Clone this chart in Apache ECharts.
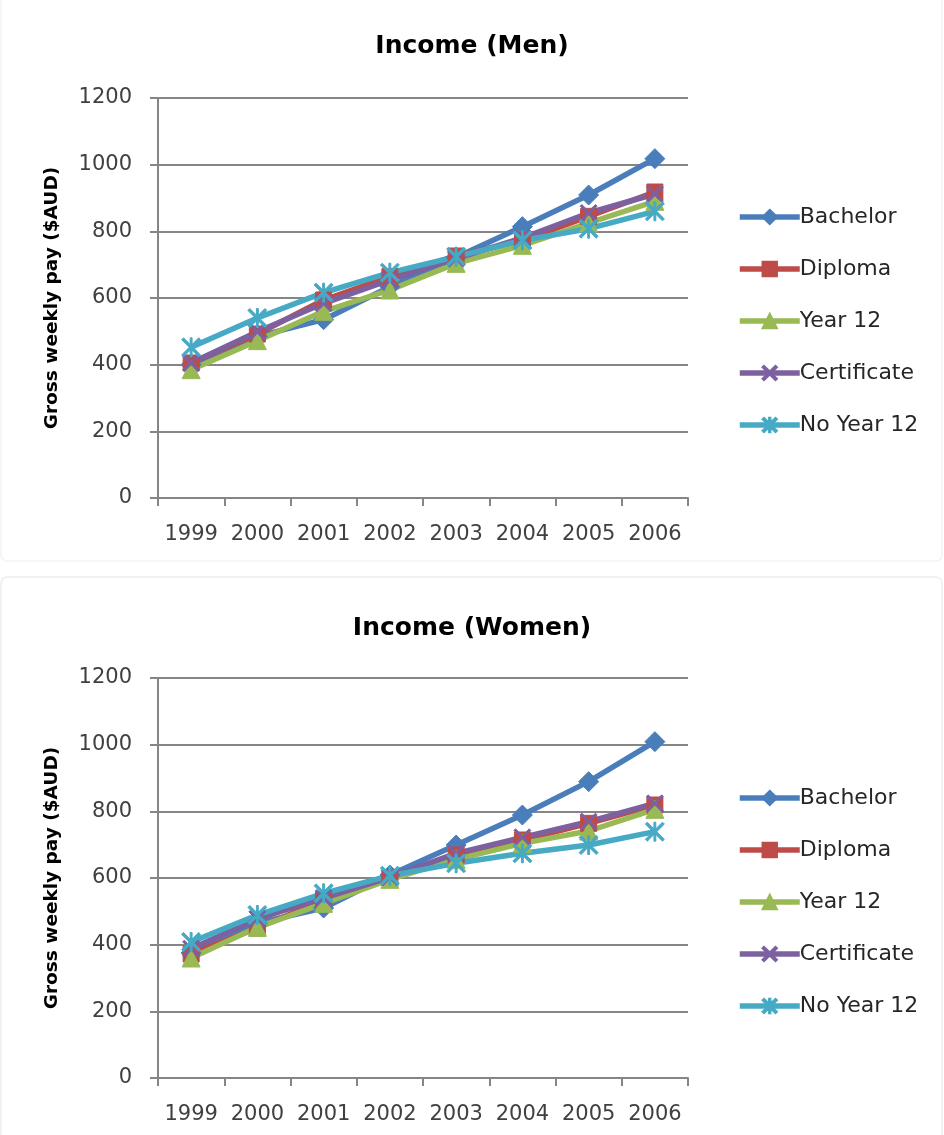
<!DOCTYPE html>
<html>
<head>
<meta charset="utf-8">
<script src="https://cdn.jsdelivr.net/npm/echarts@6/dist/echarts.min.js"></script>
<style>
html,body{margin:0;padding:0;background:#fff;}
#chart{width:944px;height:1135px;}
</style>
</head>
<body>
<div id="chart"></div>
<script>
const years = ['1999','2000','2001','2002','2003','2004','2005','2006'];
const seriesNames = ['Bachelor','Diploma','Year 12','Certificate','No Year 12'];
const yTicks = [0, 200, 400, 600, 800, 1000, 1200];

const menBachelor    = [400, 485, 535, 634, 722, 814, 909, 1018];
const menDiploma     = [405, 492, 594, 664, 726, 772, 845, 918];
const menYear12      = [385, 472, 560, 624, 704, 758, 825, 890];
const menCertificate = [405, 499, 584, 654, 718, 780, 855, 912];
const menNoYear12    = [452, 540, 616, 676, 724, 773, 808, 860];

const womenBachelor    = [375, 465, 510, 609, 699, 789, 889, 1009];
const womenDiploma     = [372, 450, 534, 600, 669, 714, 764, 819];
const womenYear12      = [360, 452, 524, 596, 656, 704, 741, 806];
const womenCertificate = [388, 478, 540, 602, 674, 722, 769, 824];
const womenNoYear12    = [408, 489, 554, 607, 644, 674, 699, 739];

const FONT = 'DejaVu Sans';
const colors = ['#4A7EBB', '#BE4B48', '#98B954', '#7D60A0', '#46AAC5'];
const xPath = 'path://M0,2 L2,0 L10,8 L18,0 L20,2 L12,10 L20,18 L18,20 L10,12 L2,20 L0,18 L8,10 Z';
const starPath = 'path://M0,2 L2,0 L10,8 L18,0 L20,2 L12,10 L20,18 L18,20 L10,12 L2,20 L0,18 L8,10 Z M9,0 L11,0 L11,20 L9,20 Z';
const symbols = ['diamond', 'rect', 'triangle', xPath, starPath];
const symbolSizes = [20, 16, 18, 17, 19];

const chart = echarts.init(document.getElementById('chart'), null, {renderer: 'canvas'});

function makeSeries(dataArr, idx) {
  return dataArr.map((d, i) => ({
    name: seriesNames[i],
    type: 'line',
    xAxisIndex: idx,
    yAxisIndex: idx,
    data: d,
    symbol: symbols[i],
    symbolSize: symbolSizes[i],
    showAllSymbol: true,
    lineStyle: {color: colors[i], width: 5.5},
    itemStyle: {color: colors[i], borderColor: colors[i], borderWidth: 1},
    emphasis: {disabled: true},
    animation: false
  }));
}

function xAxisCfg(gi) {
  return {
    type: 'category', gridIndex: gi, data: years, boundaryGap: true,
    axisLine: {show: true, lineStyle: {color: '#868686', width: 2}},
    axisTick: {show: true, length: 8, inside: false, lineStyle: {color: '#868686', width: 2}},
    axisLabel: {color: '#404040', fontSize: 21, fontFamily: FONT, margin: 26, interval: 0},
    splitLine: {show: false}
  };
}
function yAxisCfg(gi) {
  return {
    type: 'value', gridIndex: gi, min: yTicks[0], max: yTicks[yTicks.length - 1], interval: 200,
    name: 'Gross weekly pay ($AUD)', nameLocation: 'middle', nameRotate: 90, nameGap: 96,
    nameTextStyle: {fontSize: 18.5, fontWeight: 'bold', color: '#000', fontFamily: FONT},
    axisLine: {show: true, lineStyle: {color: '#868686', width: 2}},
    axisTick: {show: true, length: 8, inside: false, lineStyle: {color: '#868686', width: 2}},
    axisLabel: {color: '#404040', fontSize: 21, fontFamily: FONT, margin: 26, formatter: v => String(v)},
    splitLine: {show: true, lineStyle: {color: '#868686', width: 2}}
  };
}
function legendCfg(top) {
  return {
    orient: 'vertical', left: 732, top: top,
    data: seriesNames,
    itemWidth: 60, itemHeight: 18, itemGap: 30,
    lineStyle: {width: 5.5},
    textStyle: {fontSize: 22, fontFamily: FONT, color: '#262626', lineHeight: 22, padding: [0, 0, 0, -5]},
    selectedMode: false
  };
}

const option = {
  backgroundColor: '#fff',
  animation: false,
  graphic: [
    {type: 'rect', shape: {x: 1, y: -10, width: 941, height: 571, r: 6}, style: {fill: 'none', stroke: '#f3f3f3', lineWidth: 1.5}, silent: true, z: -10},
    {type: 'rect', shape: {x: 1, y: 577, width: 941, height: 580, r: 6}, style: {fill: 'none', stroke: '#ededed', lineWidth: 1.5}, silent: true, z: -10}
  ],
  title: [
    {text: 'Income (Men)', left: 'center', top: 29, textStyle: {fontSize: 25, fontWeight: 'bold', color: '#000', fontFamily: FONT}},
    {text: 'Income (Women)', left: 'center', top: 611, textStyle: {fontSize: 25, fontWeight: 'bold', color: '#000', fontFamily: FONT}}
  ],
  legend: [legendCfg(201), legendCfg(782)],
  grid: [
    {left: 158, top: 98, width: 530, height: 400},
    {left: 158, top: 678, width: 530, height: 400}
  ],
  xAxis: [xAxisCfg(0), xAxisCfg(1)],
  yAxis: [yAxisCfg(0), yAxisCfg(1)],
  series: [].concat(
    makeSeries([menBachelor, menDiploma, menYear12, menCertificate, menNoYear12], 0),
    makeSeries([womenBachelor, womenDiploma, womenYear12, womenCertificate, womenNoYear12], 1)
  )
};
chart.setOption(option);
</script>
</body>
</html>
